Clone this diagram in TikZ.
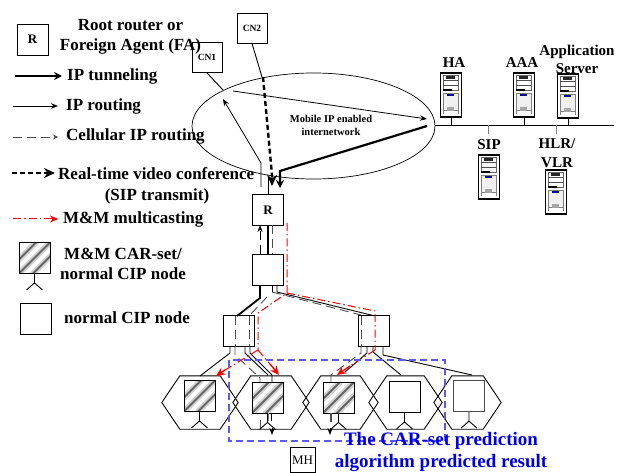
\documentclass[tikz,border=0pt]{standalone}
\usepackage{fontspec}
\setmainfont{Liberation Serif}
\usetikzlibrary{arrows.meta, calc, shapes.geometric}

\begin{document}
\begin{tikzpicture}[
    x=1pt, y=-1pt,
    every node/.style={inner sep=0pt},
    lbl/.style={font=\bfseries\fontsize{17}{17}\selectfont},
    srvlbl/.style={font=\bfseries\fontsize{15}{15}\selectfont},
    small/.style={font=\bfseries\fontsize{10.5}{10.5}\selectfont},
    bluelbl/.style={font=\bfseries\fontsize{19}{19}\selectfont, blue!90!black},
    box/.style={draw, line width=0.9pt, minimum size=31pt, fill=white},
    cn/.style={box, minimum size=30pt, font=\bfseries\fontsize{9.5}{9.5}\selectfont},
    rbox/.style={box, font=\bfseries\fontsize{13}{13}\selectfont},
    hatched/.style={box, path picture={
        \foreach \d in {-14,0,14} {
            \draw[gray!35, line width=6pt] ($(path picture bounding box.center)+(\d-17,17)$) -- ($(path picture bounding box.center)+(\d+17,-17)$);
            \draw[black!60, line width=2pt] ($(path picture bounding box.center)+(\d-17,17)$) -- ($(path picture bounding box.center)+(\d+17,-17)$);
        }}},
    cell/.style={minimum height=53pt},
    server/.style={draw, line width=1.1pt, minimum width=21pt, minimum height=44pt, fill=white},
    srvbody/.pic={
        \draw[line width=0.6pt, black!60] (3,2.5) rectangle (18,18);
        \fill[black!85] (6,3.5) rectangle (15,6.5);
        \draw[line width=0.5pt, black!70] (3,8) -- (18,8) (3,12.5) -- (18,12.5);
        \fill[black] (3,17) rectangle (12,19);
        \fill[gray!12] (3,20.5) rectangle (18,38);
        \draw[line width=0.5pt, gray] (3,20.5) rectangle (18,38);
        \fill[blue!60!black] (7,22) rectangle (14,23.5);
        \fill[gray!70] (7,35) rectangle (14,39);
        \draw[line width=0.5pt, gray] (3,38) -- (3,42) (18,38) -- (18,42);
    },
    tunnel/.style={-{Stealth[length=8pt, width=8pt]}, line width=2pt},
    route/.style={-{Stealth[length=7pt, width=5.5pt]}, line width=0.8pt},
    cip/.style={line width=0.9pt, black!70, dash pattern=on 9pt off 5pt},
    video/.style={-{Stealth[length=11pt, width=10pt]}, line width=2.4pt, dash pattern=on 5pt off 3pt},
    mcast/.style={red, line width=1pt, dash pattern=on 8pt off 3pt on 1.5pt off 3pt},
    mcarrow/.style={-{Stealth[length=9pt, width=8pt]}, red, line width=1.4pt},
    wire/.style={line width=0.9pt}
]
\useasboundingbox (0,0) rectangle (624,473);

% Internetwork and correspondent nodes
\node[draw, ellipse, line width=0.7pt, minimum width=243pt, minimum height=106pt] (net) at (313.5,126) {};
\node[cn] (cn1) at (207,57.5) {CN1};
\node[cn] (cn2) at (252,28) {CN2};
\node[small, align=center] (netlbl) at (331,125.5) {Mobile IP enabled\\[2pt]internetwork};
\coordinate (cn1end) at (223,90);
\coordinate (cn2end) at (262,77);
\draw[wire] (cn1.south) -- (cn1end);
\draw[wire] (cn2.south) -- (cn2end);

% Servers on the bus
\coordinate (busl) at (435,125);
\coordinate (busr) at (614,125);
\draw[wire] (busl) -- (busr);
\node[server] (ha) at (451,95) {};
\node[server] (aaa) at (524,95) {};
\node[server] (app) at (568,96) {};
\node[server] (sip) at (489,177) {};
\node[server] (hlr) at (556,192) {};
\foreach \n in {ha,aaa,app,sip,hlr} {
    \pic at (\n.north west) {srvbody};
}
\node[srvlbl] (halbl) at (454,63) {HA};
\node[srvlbl] (aaalbl) at (522,63) {AAA};
\node[srvlbl, align=center] (applbl) at (577,59) {Application\\[3pt]Server};
\node[srvlbl] (siplbl) at (489,145) {SIP};
\node[srvlbl, align=center] (hlrlbl) at (557,153) {HLR/\\[4pt]VLR};
\draw[wire] (ha.south) -- (ha.south |- busl);
\draw[wire] (aaa.south) -- (aaa.south |- busl);
\draw[wire] (app.south) -- (app.south |- busl);
\draw[wire, gray] (488,125) -- (488,134);
\draw[wire, gray] (556,125) -- (556,134);

% Tree of CIP nodes
\node[rbox] (root) at (268,210) {R};
\node[box] (mid) at (268,270) {};
\node[box] (left) at (238.5,331) {};
\node[box] (right) at (373.5,331) {};

% Hexagonal cells
\foreach \n/\x/\w in {h1/200/76, h2/271/76, h3/340.5/75, h4/405.5/73, h5/467.5/67} {
    \node[cell, minimum width=\w pt] (\n) at (\x,402.5) {};
    \draw[wire] (\n.west) -- ($(\n.north west)+(18,0)$) -- ($(\n.north east)+(-18,0)$) -- (\n.east)
        -- ($(\n.south east)+(-18,0)$) -- ($(\n.south west)+(18,0)$) -- cycle;
}
\node[hatched] (c1) at (199.5,396) {};
\node[hatched] (c2) at (267.5,397.5) {};
\node[hatched] (c3) at (338.5,397.5) {};
\node[box] (c4) at (404.5,397) {};
\node[box, line width=1.3pt, draw=black!70] (c5) at (469,396) {};

% Arrows inside the internetwork
\draw[route] (233,91) -- (427,119);
\draw[route] (261,187) -- (261,163) -- (223,99);
\draw[wire] (root.north) -- (268,177);
\draw[tunnel, line width=2.2pt] (427,126) -- (280,171) -- (280,188);
\draw[video] (263,77) -- (272,175) -- (272,186);

% Links from the root down
\draw[wire, line width=1.6pt] (root.south) -- (mid.north);
\draw[cip] (272.5,225) -- (272.5,254);
\draw[cip, -Stealth, black] (260,254) -- (260,225);
\coordinate (midl) at (260,298);
\coordinate (midr) at (277,292);
\draw[wire, line width=1.8pt] (260,285) -- (midl) -- (237,316);
\draw[cip] (267,297) -- (249,316);
\draw[wire] (272,285) -- (272,292);
\draw[wire] (midr |- mid.south) -- (midr) -- (375,316);
\draw[cip] (272,292) -- (361,315);

% Links inside the lower boxes
\draw[cip] (235,316) -- (235,346);
\draw[cip] (249.5,316) -- (249.5,346);
\draw[cip] (361,316) -- (361,346);

% Links down to the cells
\draw[wire] (230,346) -- (230,353) -- (200,376);
\draw[wire] (245,346) -- (245,353) -- (268,375);
\draw[wire] (250,346) -- (250,353) -- (272,375) -- (272,382);
\draw[cip] (235,346) -- (235,355) -- (260,378) -- (260,382);
\draw[wire] (373,346) -- (373,352) -- (401,375);
\draw[wire] (383,346) -- (383,355) -- (472,375);
\draw[wire] (367,346) -- (367,353) -- (345,372);
\draw[cip] (361,346) -- (361,353) -- (331,375) -- (331,382);

% Links below the cells
\draw[wire, gray] (268,413) -- (268,421);
\draw[wire] (271.5,413) -- (271.5,421);
\draw[-Stealth, wire] (272,428) -- (272,435);
\draw[cip] (260,420) -- (260,433);
\draw[cip, line width=1.3pt] (331,413) -- (331,422);
\draw[-Stealth, wire] (330,428) -- (330,435);

% Multicast paths
\coordinate (mcs) at (287,293);
\coordinate (mcl) at (258,350);
\coordinate (mcr) at (375,350);
\draw[mcast] (287,223) -- (mcs) -- (258,313) -- (mcl);
\draw[mcast] (mcs) -- (375,311) -- (mcr);
\draw[mcast] (mcl) -- (225,370);
\draw[mcast] (mcl) -- (270,364);
\draw[mcast] (mcr) -- (350,366);
\draw[mcarrow] (225,370) -- (216,376);
\draw[mcarrow] (270,364) -- (279,375);
\draw[mcarrow] (350,366) -- (337,375);

% Antennas
\node[hatched] (lgdh) at (34.5,258) {};
\node[box] (lgdb) at (35.5,319) {};
\foreach \n in {c1,c2,c3,c4,c5,lgdh} {
    \draw[wire] (\n.south) -- ++(0,9) -- ++(-8,7);
    \draw[wire] (\n.south) ++(0,9) -- ++(8,7);
}

% Prediction area
\draw[blue!65, line width=1.2pt, dash pattern=on 7pt off 4pt] (229,360) rectangle (445,441);
\node[bluelbl] (pred1) at (441,441) {The CAR-set prediction};
\node[bluelbl] (pred2) at (441,463) {algorithm predicted result};
\node[draw, line width=0.8pt, minimum size=25pt, font=\fontsize{13}{13}\selectfont] (mh) at (302.5,460) {MH};

% Legend
\node[rbox] (lgdr) at (32.5,39.5) {R};
\node[lbl, align=center] (lgdrt) at (130.5,37) {Root router or\\[3pt]Foreign Agent (FA)};
\coordinate (l1a) at (15,76);
\coordinate (l1b) at (62,76);
\coordinate (l2a) at (13,106);
\coordinate (l2b) at (58,106);
\coordinate (l3a) at (13,137);
\coordinate (l3b) at (58,137);
\coordinate (l4a) at (12,173);
\coordinate (l4b) at (55,173);
\coordinate (l5a) at (13,219);
\coordinate (l5b) at (58,219);
\draw[tunnel] (l1a) -- (l1b);
\draw[route] (l2a) -- (l2b);
\draw[cip, -{Stealth[length=5pt, width=5pt]}] (l3a) -- (l3b);
\draw[video] (l4a) -- (l4b);
\draw[mcast, -{Stealth[length=8pt, width=7pt]}] (l5a) -- (l5b);
\node[lbl, anchor=west] (t1) at (67,76) {IP tunneling};
\node[lbl, anchor=west] (t2) at (66,106) {IP routing};
\node[lbl, anchor=west] (t3) at (66,136) {Cellular IP routing};
\node[lbl, anchor=west] (t4) at (58,174) {Real-time video conference};
\node[lbl] (t4b) at (157,196) {(SIP transmit)};
\node[lbl, anchor=west] (t5) at (63,219) {M\&M multicasting};
\node[lbl, align=center] (t6) at (123,263.5) {M\&M CAR-set/\\[3pt]normal CIP node};
\node[lbl] (t7) at (127,318) {normal CIP node};

\end{tikzpicture}
\end{document}
